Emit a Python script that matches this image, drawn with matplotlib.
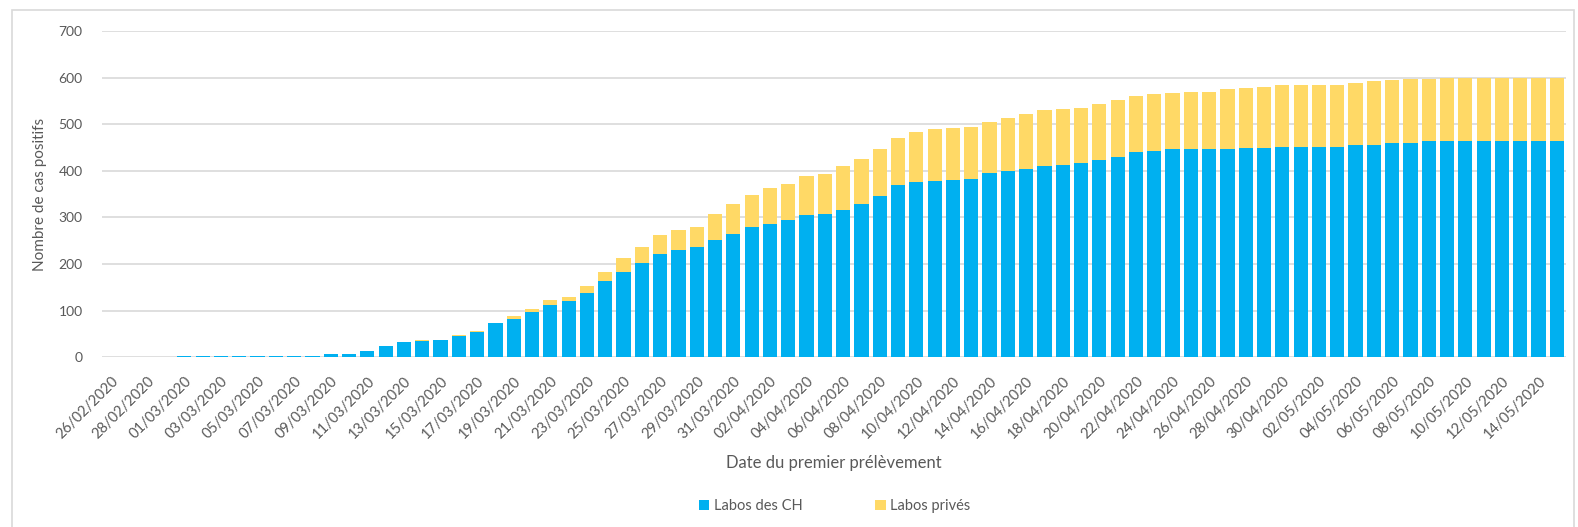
import numpy as np
import pandas as pd
import matplotlib
matplotlib.use("Agg")
import matplotlib.pyplot as plt
from matplotlib.patches import Rectangle

# Données : cas positifs cumulés par date du premier prélèvement
dates = pd.date_range("2020-02-26", "2020-05-15", freq="D")
labos_ch = [0, 0, 0, 0, 2, 2, 2, 2, 2, 3, 3, 3,
            7, 8, 13, 24,
            32, 35, 37, 46, 55, 73, 83, 98, 113, 121, 139, 164, 184, 202, 221, 230,
            237, 251, 265, 280, 287, 295, 305, 308, 315, 328, 345, 369, 375, 379, 381, 382,
            396, 399, 405, 410, 413, 416, 423, 429, 440, 443, 446, 446, 446, 447, 450, 450,
            452, 452, 452, 452, 456, 456, 460, 460, 463, 463, 463, 463, 463, 463, 463, 463]
labos_prives = [0, 0, 0, 0, 0, 0, 0, 0, 0, 0, 0, 0,
                0, 0, 0, 0,
                0, 2, 1, 1, 1, 1, 5, 5, 9, 8, 13, 20, 28, 35, 41, 44,
                43, 57, 63, 68, 76, 77, 83, 85, 95, 98, 101, 102, 108, 110, 110, 111,
                109, 115, 117, 120, 120, 119, 120, 122, 121, 122, 122, 123, 123, 128, 128, 129,
                132, 132, 132, 132, 133, 136, 134, 136, 134, 136, 136, 136, 136, 136, 136, 136]
labels = [d.strftime("%d/%m/%Y") for d in dates]

plt.rcParams["font.family"] = ["Lato", "DejaVu Sans"]
gris = "#595959"

fig = plt.figure(figsize=(15.78, 5.27), dpi=100)
ax = fig.add_axes([102 / 1578, 1 - 357.3 / 527, 1464 / 1578, (357.3 - 31) / 527])

# cadre du graphique
fig.patches.append(Rectangle((12 / 1578, -0.05), 1 - 16 / 1578, 1.05 - 10 / 527,
                             transform=fig.transFigure, fill=False,
                             edgecolor="#d9d9d9", linewidth=1.2))

x = np.arange(len(dates))
ax.bar(x, labos_ch, width=0.78, color="#00B0F0", label="Labos des CH", zorder=3)
ax.bar(x, labos_prives, width=0.78, bottom=labos_ch, color="#FFD966",
       label="Labos privés", zorder=3)

ax.set_xlim(-0.5, len(dates) - 0.5)
ax.set_ylim(0, 700)
ax.set_yticks(range(0, 701, 100))
ax.grid(axis="y", color="#d9d9d9", linewidth=1.2, zorder=0)
for s in ax.spines.values():
    s.set_visible(False)
ax.tick_params(length=0, colors=gris, labelsize=10)
ax.tick_params(axis="y", pad=14)
ax.set_xticks(x[::2])
ax.set_xticklabels(labels[::2], rotation=45, ha="right", rotation_mode="anchor",
                   fontsize=10.5)
ax.tick_params(axis="x", pad=12)

ax.set_ylabel("Nombre de cas positifs", color=gris, fontsize=11, labelpad=8)
ax.set_xlabel("Date du premier prélèvement", color=gris, fontsize=12, labelpad=10)

fig.legend(loc="center", bbox_to_anchor=(0.529, 0.04), ncol=2, frameon=False,
           fontsize=10.5, handlelength=0.7, handleheight=0.7, handletextpad=0.3,
           columnspacing=5.0, labelcolor=gris)

fig.savefig("out.png", dpi=100)
